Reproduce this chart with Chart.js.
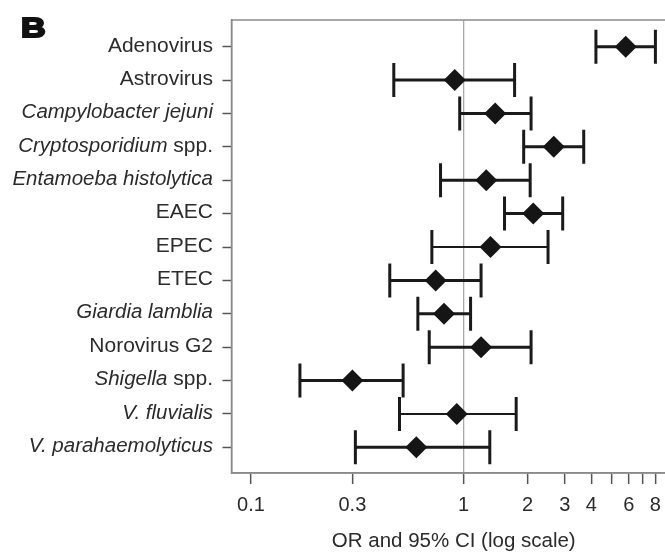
<!DOCTYPE html>
<html>
<head>
<meta charset="utf-8">
<script src="https://cdn.jsdelivr.net/npm/chart.js@4.4.1/dist/chart.umd.min.js"></script>
<style>
  html, body { margin: 0; padding: 0; background: #fff; overflow: hidden; }
  #wrap { position: relative; width: 696px; height: 552px; }
  #forestChart { display: block; }
</style>
</head>
<body>
<!-- canvas is a bit wider than the window so the right edge of the frame is cut off, as in the original -->
<div id="wrap"><canvas id="forestChart" width="696" height="552"></canvas></div>
<script>
// Pathogens, top to bottom
const categories = [
    'Adenovirus', 'Astrovirus', 'Campylobacter jejuni', 'Cryptosporidium spp.',
    'Entamoeba histolytica', 'EAEC', 'EPEC', 'ETEC', 'Giardia lamblia',
    'Norovirus G2', 'Shigella spp.', 'V. fluvialis', 'V. parahaemolyticus'
];
// italic part at the start of each label (rest is upright)
const italicParts = [
    '', '', 'Campylobacter jejuni', 'Cryptosporidium',
    'Entamoeba histolytica', '', '', '', 'Giardia lamblia',
    '', 'Shigella', 'V. fluvialis', 'V. parahaemolyticus'
];

// odds ratios and 95% CI
const oddsRatio = [5.8, 0.91, 1.41, 2.66, 1.28, 2.13, 1.34, 0.74, 0.81, 1.21, 0.30, 0.93, 0.60];
const ciLower   = [4.2, 0.47, 0.96, 1.92, 0.78, 1.56, 0.71, 0.45, 0.61, 0.69, 0.17, 0.50, 0.31];
const ciUpper   = [8.0, 1.74, 2.08, 3.68, 2.06, 2.93, 2.50, 1.21, 1.08, 2.08, 0.52, 1.77, 1.33];
const lineWidths = [3, 3, 3, 3, 3, 3, 2, 3, 3, 3, 3, 2, 3];

// x axis ticks (log scale)
const xTickValues = [0.1, 0.3, 1, 2, 3, 4, 5, 6, 7, 8, 9, 10];
const xTickLabels = ['0.1', '0.3', '1', '2', '3', '4', '6', '8'];

const textColor = '#2b2b2b';
const fontFamily = "'Liberation Sans', Arial, Helvetica, sans-serif";

// one small line dataset per row for the CI whiskers
const ciDatasets = categories.map((name, i) => ({
    type: 'line',
    label: name + ' CI',
    data: [{ x: ciLower[i], y: i }, { x: ciUpper[i], y: i }],
    borderColor: '#1a1a1a',
    borderWidth: lineWidths[i],
    pointStyle: 'line',
    pointRotation: 90,
    pointRadius: 17,
    pointBorderWidth: 3,
    pointBorderColor: '#1a1a1a',
    fill: false,
    order: 2
}));

const orDataset = {
    type: 'scatter',
    label: 'OR',
    data: oddsRatio.map((v, i) => ({ x: v, y: i })),
    pointStyle: 'rectRot',
    pointRadius: 11,
    backgroundColor: '#151515',
    borderColor: '#151515',
    borderWidth: 0,
    order: 1
};

// frame, row labels and panel letter
const decorPlugin = {
    id: 'decor',
    afterDraw(chart) {
        const ctx = chart.ctx;
        const area = chart.chartArea;
        const yScale = chart.scales.y;

        ctx.save();
        ctx.strokeStyle = '#8a8a8a';
        ctx.lineWidth = 1.5;
        ctx.strokeRect(area.left, area.top, area.right - area.left, area.bottom - area.top);

        // row labels, right aligned, with italic species names
        ctx.fillStyle = textColor;
        ctx.textBaseline = 'middle';
        const rightX = 213;
        categories.forEach((name, i) => {
            const it = italicParts[i];
            const rest = name.slice(it.length);
            const y = yScale.getPixelForValue(i) - 1;
            ctx.font = 'italic 20.5px ' + fontFamily;
            const wIt = ctx.measureText(it).width;
            ctx.font = '21px ' + fontFamily;
            const wRest = ctx.measureText(rest).width;
            let x = rightX - wIt - wRest;
            ctx.textAlign = 'left';
            if (it) {
                ctx.font = 'italic 20.5px ' + fontFamily;
                ctx.fillText(it, x, y);
                x += wIt;
            }
            if (rest) {
                ctx.font = '21px ' + fontFamily;
                ctx.fillText(rest, x, y);
            }
        });

        // panel letter
        ctx.fillStyle = '#111';
        ctx.strokeStyle = '#111';
        ctx.lineWidth = 2;
        ctx.font = 'bold 28px ' + fontFamily;
        ctx.textBaseline = 'alphabetic';
        ctx.textAlign = 'left';
        ctx.save();
        ctx.translate(21, 37);
        ctx.scale(1.22, 1);
        ctx.fillText('B', 0, 0);
        ctx.strokeText('B', 0, 0);
        ctx.restore();
        ctx.restore();
    }
};

new Chart(document.getElementById('forestChart'), {
    data: { datasets: [orDataset, ...ciDatasets] },
    options: {
        responsive: false,
        animation: false,
        devicePixelRatio: 1,
        layout: { padding: { top: 20, right: 14, left: 0, bottom: 0 } },
        plugins: {
            legend: { display: false },
            tooltip: { enabled: false }
        },
        scales: {
            x: {
                type: 'logarithmic',
                position: 'bottom',
                min: 0.081,
                max: 10,
                afterBuildTicks: (scale) => {
                    scale.ticks = xTickValues.map(v => ({ value: v }));
                },
                afterFit: (scale) => {
                    scale.height = 79;
                    scale.paddingLeft = 0;
                    scale.paddingRight = 0;
                },
                ticks: {
                    autoSkip: false,
                    maxRotation: 0,
                    padding: 9,
                    color: textColor,
                    font: { family: fontFamily, size: 20 },
                    callback: (value) => {
                        const s = String(value);
                        return xTickLabels.includes(s) ? s : '';
                    }
                },
                grid: {
                    drawOnChartArea: true,
                    drawTicks: true,
                    tickLength: 11,
                    tickWidth: 1.5,
                    tickColor: '#555',
                    lineWidth: 1.3,
                    color: (ctx) => (ctx.tick && ctx.tick.value === 1) ? '#a8a8a8' : 'rgba(0,0,0,0)'
                },
                border: { display: true, color: '#8a8a8a', width: 1.5 },
                title: {
                    display: true,
                    text: 'OR and 95% CI (log scale)',
                    color: textColor,
                    font: { family: fontFamily, size: 20.5 },
                    padding: { top: 0, bottom: -2 }
                }
            },
            y: {
                type: 'linear',
                reverse: true,
                min: -0.8,
                max: 12.77,
                afterBuildTicks: (scale) => {
                    scale.ticks = categories.map((c, i) => ({ value: i }));
                },
                afterFit: (scale) => {
                    scale.width = 231.5;
                    scale.paddingTop = 0;
                    scale.paddingBottom = 0;
                },
                ticks: { display: false },
                grid: {
                    drawOnChartArea: false,
                    drawTicks: true,
                    tickLength: 9,
                    tickWidth: 1.5,
                    tickColor: '#555'
                },
                border: { display: true, color: '#8a8a8a', width: 1.5 }
            }
        }
    },
    plugins: [decorPlugin]
});
</script>
</body>
</html>
